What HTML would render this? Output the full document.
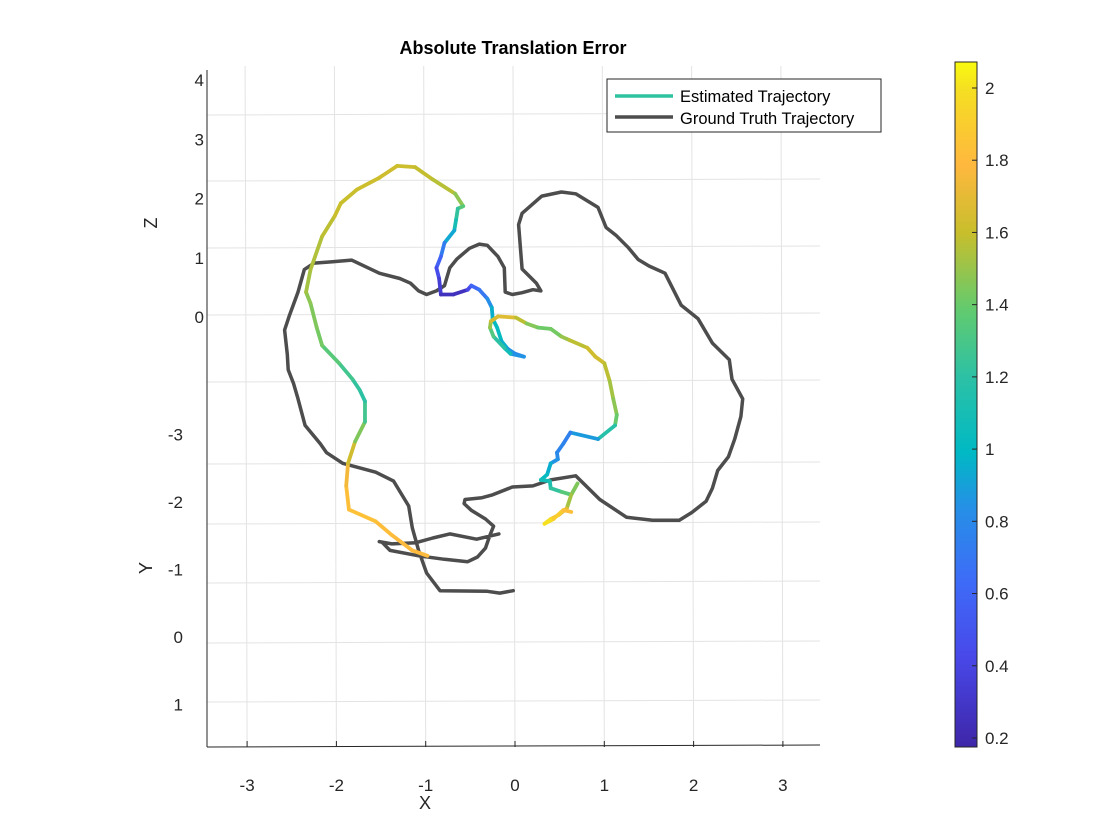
<!DOCTYPE html>
<html><head><meta charset="utf-8">
<style>
html,body{margin:0;padding:0;background:#fff;}
svg{display:block;font-family:"Liberation Sans",sans-serif;}
</style></head>
<body>
<svg id="chart" width="1120" height="840" viewBox="0 0 1120 840" xmlns="http://www.w3.org/2000/svg">
<defs>
<linearGradient id="parula" x1="0" y1="1" x2="0" y2="0">
<stop offset="0" stop-color="#3E26A8"/>
<stop offset="0.13" stop-color="#4848E8"/>
<stop offset="0.24" stop-color="#3E6BF8"/>
<stop offset="0.35" stop-color="#2590E6"/>
<stop offset="0.43" stop-color="#00B9C4"/>
<stop offset="0.54" stop-color="#2CC1A5"/>
<stop offset="0.64" stop-color="#63CB6E"/>
<stop offset="0.75" stop-color="#C8BE2C"/>
<stop offset="0.85" stop-color="#FFB83E"/>
<stop offset="0.96" stop-color="#F5DF22"/>
<stop offset="1" stop-color="#F9FB0E"/>
</linearGradient>
</defs>
<rect x="0" y="0" width="1120" height="840" fill="#fff"/>
<g id="grid"></g>
<g id="axes"></g>
<g id="gt"></g>
<g id="est"></g>
<text x="513" y="54" text-anchor="middle" font-size="18" font-weight="bold" fill="#000">Absolute Translation Error</text>
<text x="425" y="809" text-anchor="middle" font-size="18" fill="#262626">X</text>
<text x="0" y="0" transform="translate(157,223) rotate(-90)" text-anchor="middle" font-size="18" fill="#262626">Z</text>
<text x="0" y="0" transform="translate(152,568) rotate(-90)" text-anchor="middle" font-size="18" fill="#262626">Y</text>
<g>
<rect x="607" y="79" width="274" height="53" fill="#fff" stroke="#262626" stroke-width="1"/>
<line x1="615" y1="96" x2="673" y2="96" stroke="#2DC2A0" stroke-width="3.5"/>
<text x="680" y="102" font-size="16.5" fill="#000">Estimated Trajectory</text>
<line x1="615" y1="117" x2="673" y2="117" stroke="#4D4D4D" stroke-width="3.5"/>
<text x="680" y="124" font-size="16.5" fill="#000">Ground Truth Trajectory</text>
</g>
<g id="cbar">
<rect x="955" y="62" width="22" height="685" fill="url(#parula)" stroke="#262626" stroke-width="1"/>
</g>
</svg>
<script>
const xTicks = [-3,-2,-1,0,1,2,3];
const zTicks = [4,3,2,1,0];
const yTicks = [-3,-2,-1,0,1];
const cbTicks = [2,1.8,1.6,1.4,1.2,1,0.8,0.6,0.4,0.2];
const gtX = [-0.02,-0.17,-0.31,-0.84,-0.99,-1.08,-1.15,-1.19,-1.36,-1.56,-1.93,-2.11,-2.18,-2.35,-2.43,-2.48,-2.54,-2.55,-2.58,-2.53,-2.43,-2.36,-2.25,-2.06,-1.83,-1.52,-1.29,-1.17,-1.08,-0.99,-0.88,-0.79,-0.73,-0.65,-0.51,-0.40,-0.31,-0.19,-0.12,-0.11,-0.03,0.08,0.20,0.29,0.24,0.08,0.06,0.04,0.08,0.30,0.52,0.68,0.93,1.02,1.13,1.27,1.38,1.50,1.68,1.86,2.05,2.21,2.40,2.43,2.55,2.53,2.46,2.39,2.27,2.21,2.14,1.98,1.84,1.54,1.25,0.95,0.68,0.40,0.20,-0.03,-0.25,-0.37,-0.56,-0.57,-0.49,-0.33,-0.24,-0.28,-0.33,-0.42,-0.53,-0.79,-1.08,-1.40,-1.49,-1.52,-1.38,-1.11,-0.92,-0.73,-0.43,-0.18];
const gtZ = [-4.62,-4.66,-4.63,-4.62,-4.32,-3.94,-3.56,-3.19,-2.77,-2.62,-2.47,-2.29,-2.14,-1.83,-1.38,-1.12,-0.89,-0.63,-0.22,0.01,0.42,0.80,0.91,0.93,0.96,0.74,0.65,0.57,0.44,0.38,0.44,0.53,0.83,0.98,1.16,1.23,1.21,1.02,0.83,0.42,0.38,0.41,0.46,0.44,0.57,0.81,1.17,1.56,1.75,2.04,2.11,2.08,1.85,1.51,1.38,1.17,0.97,0.86,0.74,0.20,-0.03,-0.44,-0.72,-1.05,-1.38,-1.68,-2.06,-2.36,-2.59,-2.89,-3.11,-3.30,-3.43,-3.43,-3.38,-3.08,-2.68,-2.75,-2.85,-2.87,-3.00,-3.05,-3.08,-3.15,-3.26,-3.41,-3.53,-3.68,-3.90,-4.05,-4.13,-4.09,-4.03,-3.94,-3.80,-3.79,-3.83,-3.81,-3.73,-3.66,-3.75,-3.66];
const estX = [-0.98,-1.15,-1.38,-1.56,-1.86,-1.89,-1.87,-1.79,-1.68,-1.68,-1.74,-1.82,-1.97,-2.16,-2.22,-2.29,-2.34,-2.29,-2.16,-2.02,-1.95,-1.77,-1.52,-1.32,-1.12,-0.92,-0.67,-0.58,-0.64,-0.66,-0.68,-0.79,-0.83,-0.88,-0.85,-0.83,-0.69,-0.53,-0.49,-0.40,-0.31,-0.26,-0.25,-0.20,-0.15,-0.08,0.00,0.10,-0.05,-0.12,-0.24,-0.28,-0.27,-0.19,0.01,0.13,0.26,0.40,0.52,0.61,0.81,0.90,1.00,1.06,1.10,1.14,1.12,0.93,0.62,0.54,0.47,0.48,0.40,0.36,0.29,0.39,0.40,0.52,0.63,0.70,0.63,0.58,0.49,0.40,0.33,0.43,0.54,0.63];
const estZ = [-4.03,-3.94,-3.68,-3.45,-3.25,-2.85,-2.47,-2.10,-1.77,-1.42,-1.23,-1.05,-0.78,-0.48,-0.18,0.23,0.42,0.80,1.36,1.70,1.92,2.15,2.35,2.55,2.53,2.32,2.08,1.87,1.83,1.64,1.46,1.25,1.02,0.83,0.65,0.38,0.38,0.46,0.53,0.46,0.31,0.16,-0.03,-0.18,-0.41,-0.54,-0.62,-0.67,-0.62,-0.52,-0.33,-0.18,-0.07,0.01,-0.01,-0.11,-0.18,-0.20,-0.33,-0.39,-0.52,-0.67,-0.78,-1.08,-1.38,-1.65,-1.83,-2.06,-1.95,-2.14,-2.29,-2.40,-2.47,-2.66,-2.75,-2.77,-2.89,-2.95,-3.00,-2.81,-3.00,-3.23,-3.34,-3.41,-3.49,-3.41,-3.26,-3.29];
const estErr = [1.8,1.8,1.8,1.82,1.85,1.8,1.7,1.55,1.35,1.2,1.2,1.25,1.3,1.4,1.45,1.45,1.5,1.55,1.55,1.6,1.6,1.6,1.62,1.62,1.6,1.58,1.55,1.4,1.3,1.15,1.05,0.8,0.65,0.5,0.4,0.3,0.22,0.3,0.55,0.65,0.75,0.9,1.0,1.05,1.0,0.9,0.8,0.7,1.0,1.15,1.25,1.4,1.6,1.7,1.65,1.5,1.42,1.4,1.45,1.55,1.6,1.65,1.6,1.55,1.5,1.45,1.35,1.0,0.75,0.75,0.8,0.8,0.9,1.0,1.05,1.1,1.15,1.3,1.4,1.45,1.45,1.6,1.75,1.9,2.05,1.95,1.85,1.8];

const NS='http://www.w3.org/2000/svg';
const X0=515, XS=89.3, Z0=317, ZS=59.25;
function sx(v){return X0+v*XS;}
function sz(v){return Z0-v*ZS;}
const CMIN=0.175, CMAX=2.072;
const stops=[[0,[62,38,168]],[0.13,[72,72,232]],[0.24,[62,107,248]],[0.35,[37,144,230]],[0.43,[0,185,196]],[0.54,[44,193,165]],[0.64,[99,203,110]],[0.75,[200,190,44]],[0.85,[255,184,62]],[0.96,[245,223,34]],[1,[249,251,14]]];
function cmap(v){let t=(v-CMIN)/(CMAX-CMIN);t=Math.max(0,Math.min(1,t));
 for(let i=1;i<stops.length;i++){if(t<=stops[i][0]){const a=stops[i-1],b=stops[i];const f=(t-a[0])/(b[0]-a[0]);
 const c=a[1].map((q,k)=>Math.round(q+(b[1][k]-q)*f));return 'rgb('+c.join(',')+')';}}return 'rgb(249,251,14)';}
function cby(v){return 62+(CMAX-v)/(CMAX-CMIN)*685;}

const grid=document.getElementById('grid');
const axes=document.getElementById('axes');
function mk(tag,attrs,parent){const e=document.createElementNS(NS,tag);for(const k in attrs)e.setAttribute(k,attrs[k]);parent.appendChild(e);return e;}

xTicks.forEach(function(t){
 const l=mk('line',{x1:sx(t)-2,y1:66,x2:sx(t),y2:747,stroke:'#e3e3e3','stroke-width':1},grid);
 
 
 const tk=mk('line',{x1:sx(t),y1:747,x2:sx(t),y2:741,stroke:'#262626','stroke-width':1},axes);
 
 
 const tx=mk('text',{x:sx(t),y:791,'text-anchor':'middle','font-size':17,fill:'#262626'},axes);
 tx.textContent=String(t);
 
 
});
const hUpper=[115,181,248,315,382];
const hLower=[464,524,583,643,702];
hUpper.concat(hLower).forEach(function(y){
 const l=mk('line',{x1:207,y1:y,x2:820,y2:y-2,stroke:'#e3e3e3','stroke-width':1},grid);
 
 
});
zTicks.forEach(function(t){
 const tx=mk('text',{x:204,y:sz(t)+6,'text-anchor':'end','font-size':17,fill:'#262626'},axes);
 tx.textContent=String(t);
 
 
});
yTicks.forEach(function(t){
 const y=637+t*67.5;
 const tx=mk('text',{x:183,y:y+6,'text-anchor':'end','font-size':17,fill:'#262626'},axes);
 tx.textContent=String(t);
 
 
});
const la=mk('line',{x1:207,y1:70,x2:207,y2:747,stroke:'#262626','stroke-width':1},axes);


const ba=mk('line',{x1:207,y1:747,x2:820,y2:745,stroke:'#262626','stroke-width':1},axes);



const gt=document.getElementById('gt');
let d='';
for(let i=0;i<gtX.length;i++){d+=(i?'L':'M')+sx(gtX[i]).toFixed(1)+' '+sz(gtZ[i]).toFixed(1);}
const gp=mk('path',{d:d,fill:'none',stroke:'#4D4D4D','stroke-width':3.5,'stroke-linejoin':'round','stroke-linecap':'round'},gt);



const est=document.getElementById('est');
for(let i=1;i<estX.length;i++){
 const s=mk('line',{x1:sx(estX[i-1]),y1:sz(estZ[i-1]),x2:sx(estX[i]),y2:sz(estZ[i]),stroke:cmap((estErr[i-1]+estErr[i])/2),'stroke-width':3.8,'stroke-linecap':'round'},est);
 
 
}

const cb=document.getElementById('cbar');
cbTicks.forEach(function(t){
 const y=cby(t);
 const tk=mk('line',{x1:972,y1:y,x2:977,y2:y,stroke:'#262626','stroke-width':1},cb);
 
 
 const tx=mk('text',{x:985,y:y+6,'font-size':17,fill:'#262626'},cb);
 tx.textContent=String(t);
 
 
});
</script>
</body></html>
